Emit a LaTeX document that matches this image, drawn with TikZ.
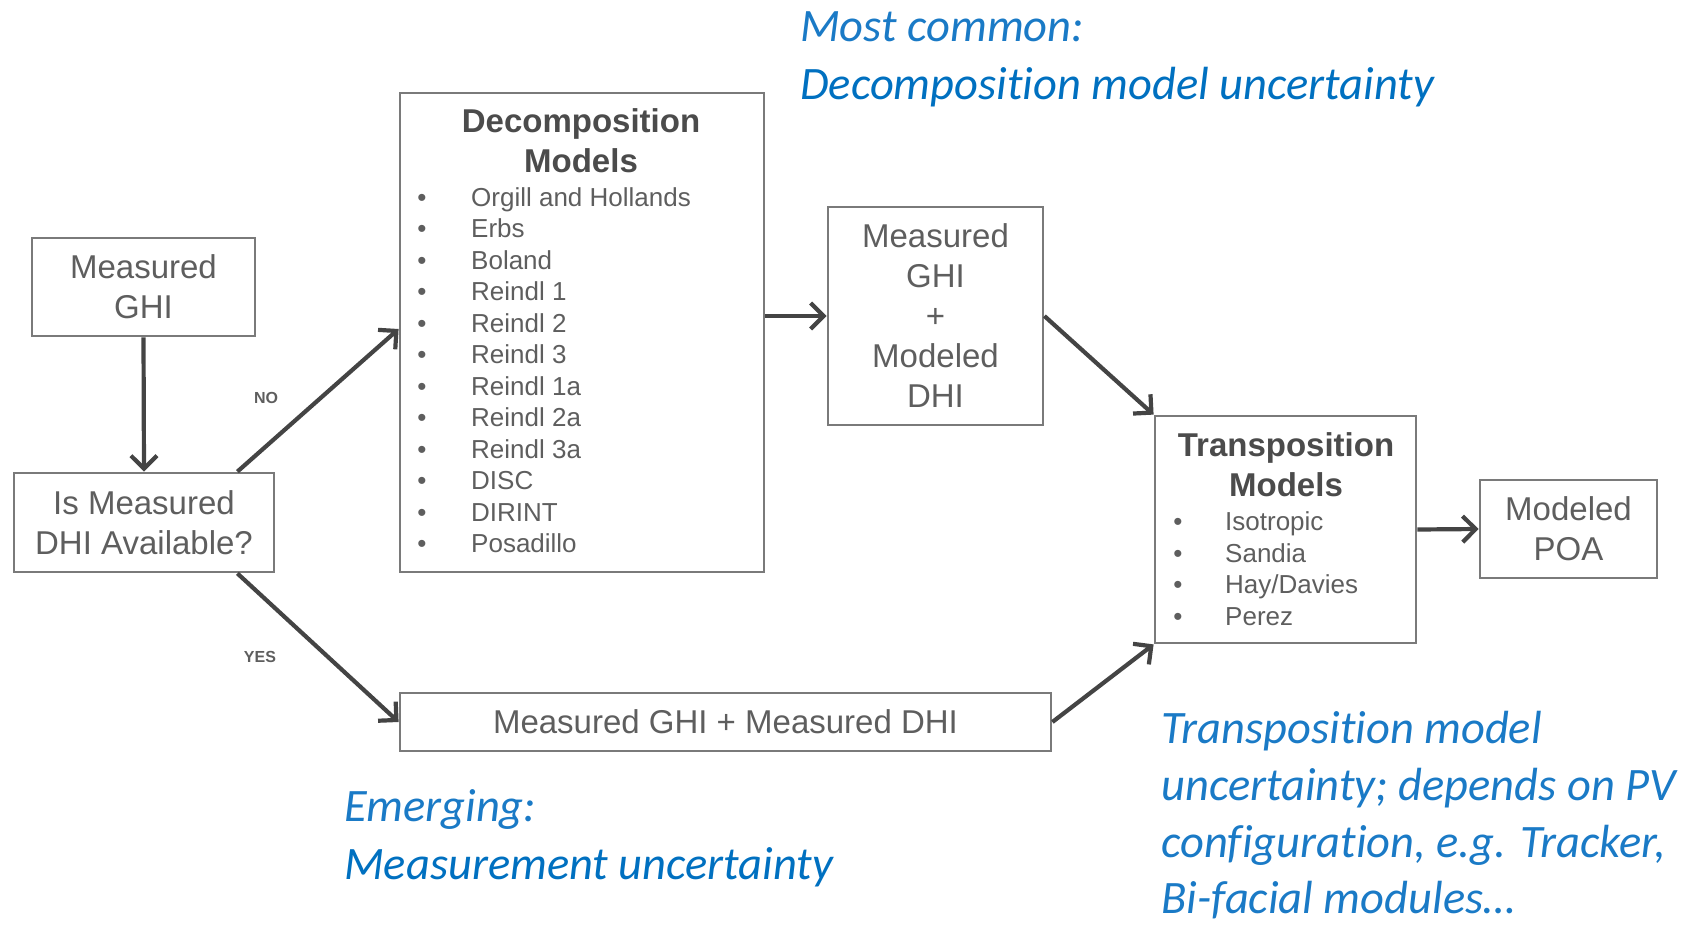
\documentclass[tikz,border=0pt]{standalone}
\usepackage{fontspec}
\setmainfont{Liberation Sans}
\newfontfamily\calib[Ligatures=NoCommon]{Carlito}
\usetikzlibrary{arrows.meta,calc}
\definecolor{txtgray}{HTML}{5E5E5E}
\definecolor{boxgray}{HTML}{7A7A7A}
\definecolor{arrgray}{HTML}{444444}
\definecolor{blueA}{HTML}{0070C0}
\definecolor{blueL}{HTML}{1A7AC6}
\begin{document}
\begin{tikzpicture}[x=1pt,y=-1pt,
  box/.style={draw=boxgray, line width=2.8pt, inner sep=0pt, text=txtgray, align=center, font=\fontsize{33}{40}\selectfont},
  head/.style={text=txtgray!80!black, align=center, inner sep=0pt, font=\fontsize{33}{40}\selectfont\bfseries},
  item/.style={text=txtgray, inner sep=0pt, font=\fontsize{26}{31}\selectfont},
  lab/.style={text=txtgray, inner sep=0pt, font=\fontsize{16}{19}\selectfont\bfseries},
  arr/.style={draw=arrgray, line width=4.2pt, -{Straight Barb[length=13pt,width=26pt]}},
  note/.style={text=blueA, inner sep=0pt, anchor=base west, font=\fontsize{46.5}{56}\selectfont\calib\itshape},
  notel/.style={note, text=blueL}
]
\useasboundingbox (0,0) rectangle (1694,924);

% boxes
\node[box, minimum width=223pt, minimum height=98pt] (ghi) at (143.5,287) {Measured\\GHI};
\node[box, minimum width=260pt, minimum height=99pt] (isdhi) at (144,522.5) {Is Measured\\DHI Available?};
\node[box, minimum width=364pt, minimum height=479pt] (decomp) at (582,332.5) {};
\node[box, minimum width=215pt, minimum height=218pt] (mm) at (935.5,316) {Measured\\GHI\\+\\Modeled\\DHI};
\node[box, minimum width=261pt, minimum height=227pt] (trans) at (1285.5,529.5) {};
\node[box, minimum width=177pt, minimum height=98pt] (poa) at (1568.5,529) {Modeled\\POA};
\node[box, minimum width=651pt, minimum height=58pt] (mm2) at (725.5,722) {Measured GHI + Measured DHI};

% decomposition contents
\node[head] (dh) at (581,141) {Decomposition\\Models};
\foreach \t [count=\i] in {Orgill and Hollands, Erbs, Boland, Reindl 1, Reindl 2, Reindl 3, Reindl 1a, Reindl 2a, Reindl 3a, DISC, DIRINT, Posadillo}{
  \pgfmathsetmacro{\yy}{206+(\i-1)*31.53}
  \node[item, anchor=base] (db\i) at (422,\yy) {\textbullet};
  \node[item, anchor=base west] (d\i) at (471,\yy) {\t};
}

% transposition contents
\node[head] (th) at (1286,465) {Transposition\\Models};
\foreach \t [count=\i] in {Isotropic, Sandia, Hay/Davies, Perez}{
  \pgfmathsetmacro{\yy}{530.5+(\i-1)*31.6}
  \node[item, anchor=base] (tb\i) at (1178,\yy) {\textbullet};
  \node[item, anchor=base west] (t\i) at (1225,\yy) {\t};
}

% labels
\node[lab] (no) at (266,398) {NO};
\node[lab] (yes) at (260,657) {YES};

% arrows
\draw[arr] (ghi.south) -- (isdhi.north);
\draw[arr] ([xshift=-38pt]isdhi.north east) -- ([yshift=3.5pt]decomp.west);
\draw[arr] ([xshift=-38pt]isdhi.south east) -- (mm2.west);
\draw[arr] (decomp.east |- mm.west) -- (mm.west);
\draw[arr] (mm.east) -- (trans.north west);
\draw[arr] (mm2.east) -- (trans.south west);
\draw[arr] (trans.east) -- (poa.west);

% blue notes
\node[notel] (n1) at (800,41) {Most common:};
\node[note] (n2) at (800,99) {Decomposition model uncertainty};
\node[notel] (n3) at (344,821) {Emerging:};
\node[note] (n4) at (344,879) {Measurement uncertainty};
\node[notel] (n5) at (1161,743) {Transposition model};
\node[notel] (n6) at (1161,800) {uncertainty; depends on PV};
\node[notel] (n7) at (1161,857) {configuration, e.g. Tracker,};
\node[notel] (n8) at (1161,913) {Bi-facial modules…};
\end{tikzpicture}
\end{document}
